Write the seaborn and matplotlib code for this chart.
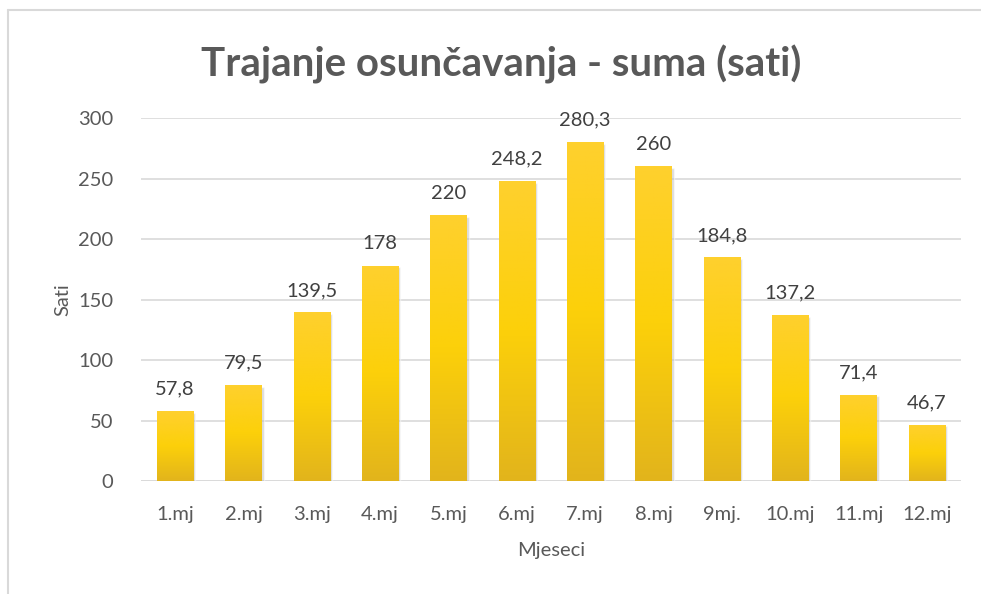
import numpy as np
import pandas as pd
import seaborn as sns
import matplotlib.pyplot as plt
from matplotlib.colors import LinearSegmentedColormap

# Podaci
mjeseci = ['1.mj', '2.mj', '3.mj', '4.mj', '5.mj', '6.mj', '7.mj', '8.mj', '9mj.', '10.mj', '11.mj', '12.mj']
sati = [57.8, 79.5, 139.5, 178, 220, 248.2, 280.3, 260, 184.8, 137.2, 71.4, 46.7]
oznake = ['57,8', '79,5', '139,5', '178', '220', '248,2', '280,3', '260', '184,8', '137,2', '71,4', '46,7']

df = pd.DataFrame({'Mjeseci': mjeseci, 'Sati': sati})

sns.set_theme(style="white")
plt.rcParams['font.family'] = ['Lato', 'DejaVu Sans']
siva = '#595959'

fig = plt.figure(figsize=(9.81, 5.94), dpi=100)
ax = fig.add_axes([0.1437, 0.1902, 0.836, 0.6111])

sns.barplot(x='Mjeseci', y='Sati', data=df, color='#FFCC00', width=0.53, ax=ax, zorder=3)

# Gradijent na stupcima
cmap = LinearSegmentedColormap.from_list('zuta', ['#E2B41C', '#FCD00A', '#FFD02E'])
grad = np.linspace(0, 1, 256).reshape(-1, 1)
for bar in ax.patches:
    x0, y0 = bar.get_x(), bar.get_y()
    w, h = bar.get_width(), bar.get_height()
    bar.set_edgecolor('none')
    # sjena
    ax.bar(x0 + w / 2 + 0.03, h, width=w, bottom=-1.5, color='#bbbbbb', alpha=0.5, zorder=2)
    img = ax.imshow(grad, cmap=cmap, aspect='auto', origin='lower',
                    extent=[x0, x0 + w, y0, y0 + h], zorder=4)
    img.set_clip_path(bar)

ax.set_xlim(-0.5, len(mjeseci) - 0.5)
ax.set_ylim(0, 300)
ax.set_yticks(range(0, 301, 50))
ax.yaxis.grid(True, color='#d9d9d9', linewidth=1.2, zorder=0)
ax.set_axisbelow(True)
sns.despine(ax=ax, left=True, bottom=True, top=True, right=True)
ax.axhline(0, color='#d9d9d9', linewidth=1.2, zorder=1)

for i, (v, t) in enumerate(zip(sati, oznake)):
    ax.text(i, v + 11, t, ha='center', va='bottom', fontsize=14.5, color='#404040', clip_on=False)

ax.tick_params(axis='both', labelsize=14.5, colors=siva, length=0)
ax.tick_params(axis='x', pad=18)
ax.tick_params(axis='y', pad=20)
ax.set_xlabel('Mjeseci', fontsize=14.5, color=siva, labelpad=14)
ax.set_ylabel('Sati', fontsize=14.5, color=siva, labelpad=5)

fig.text(0.511, 0.892, 'Trajanje osunčavanja - suma (sati)', ha='center', va='center',
         fontsize=29, fontweight='bold', color=siva)

# okvir
fig.add_artist(plt.Line2D([8 / 981, 8 / 981], [0, 1 - 10 / 594], color='#d9d9d9', linewidth=1.5))
fig.add_artist(plt.Line2D([8 / 981, 1], [1 - 10 / 594, 1 - 10 / 594], color='#d9d9d9', linewidth=1.5))

fig.savefig('out.png', dpi=100)
